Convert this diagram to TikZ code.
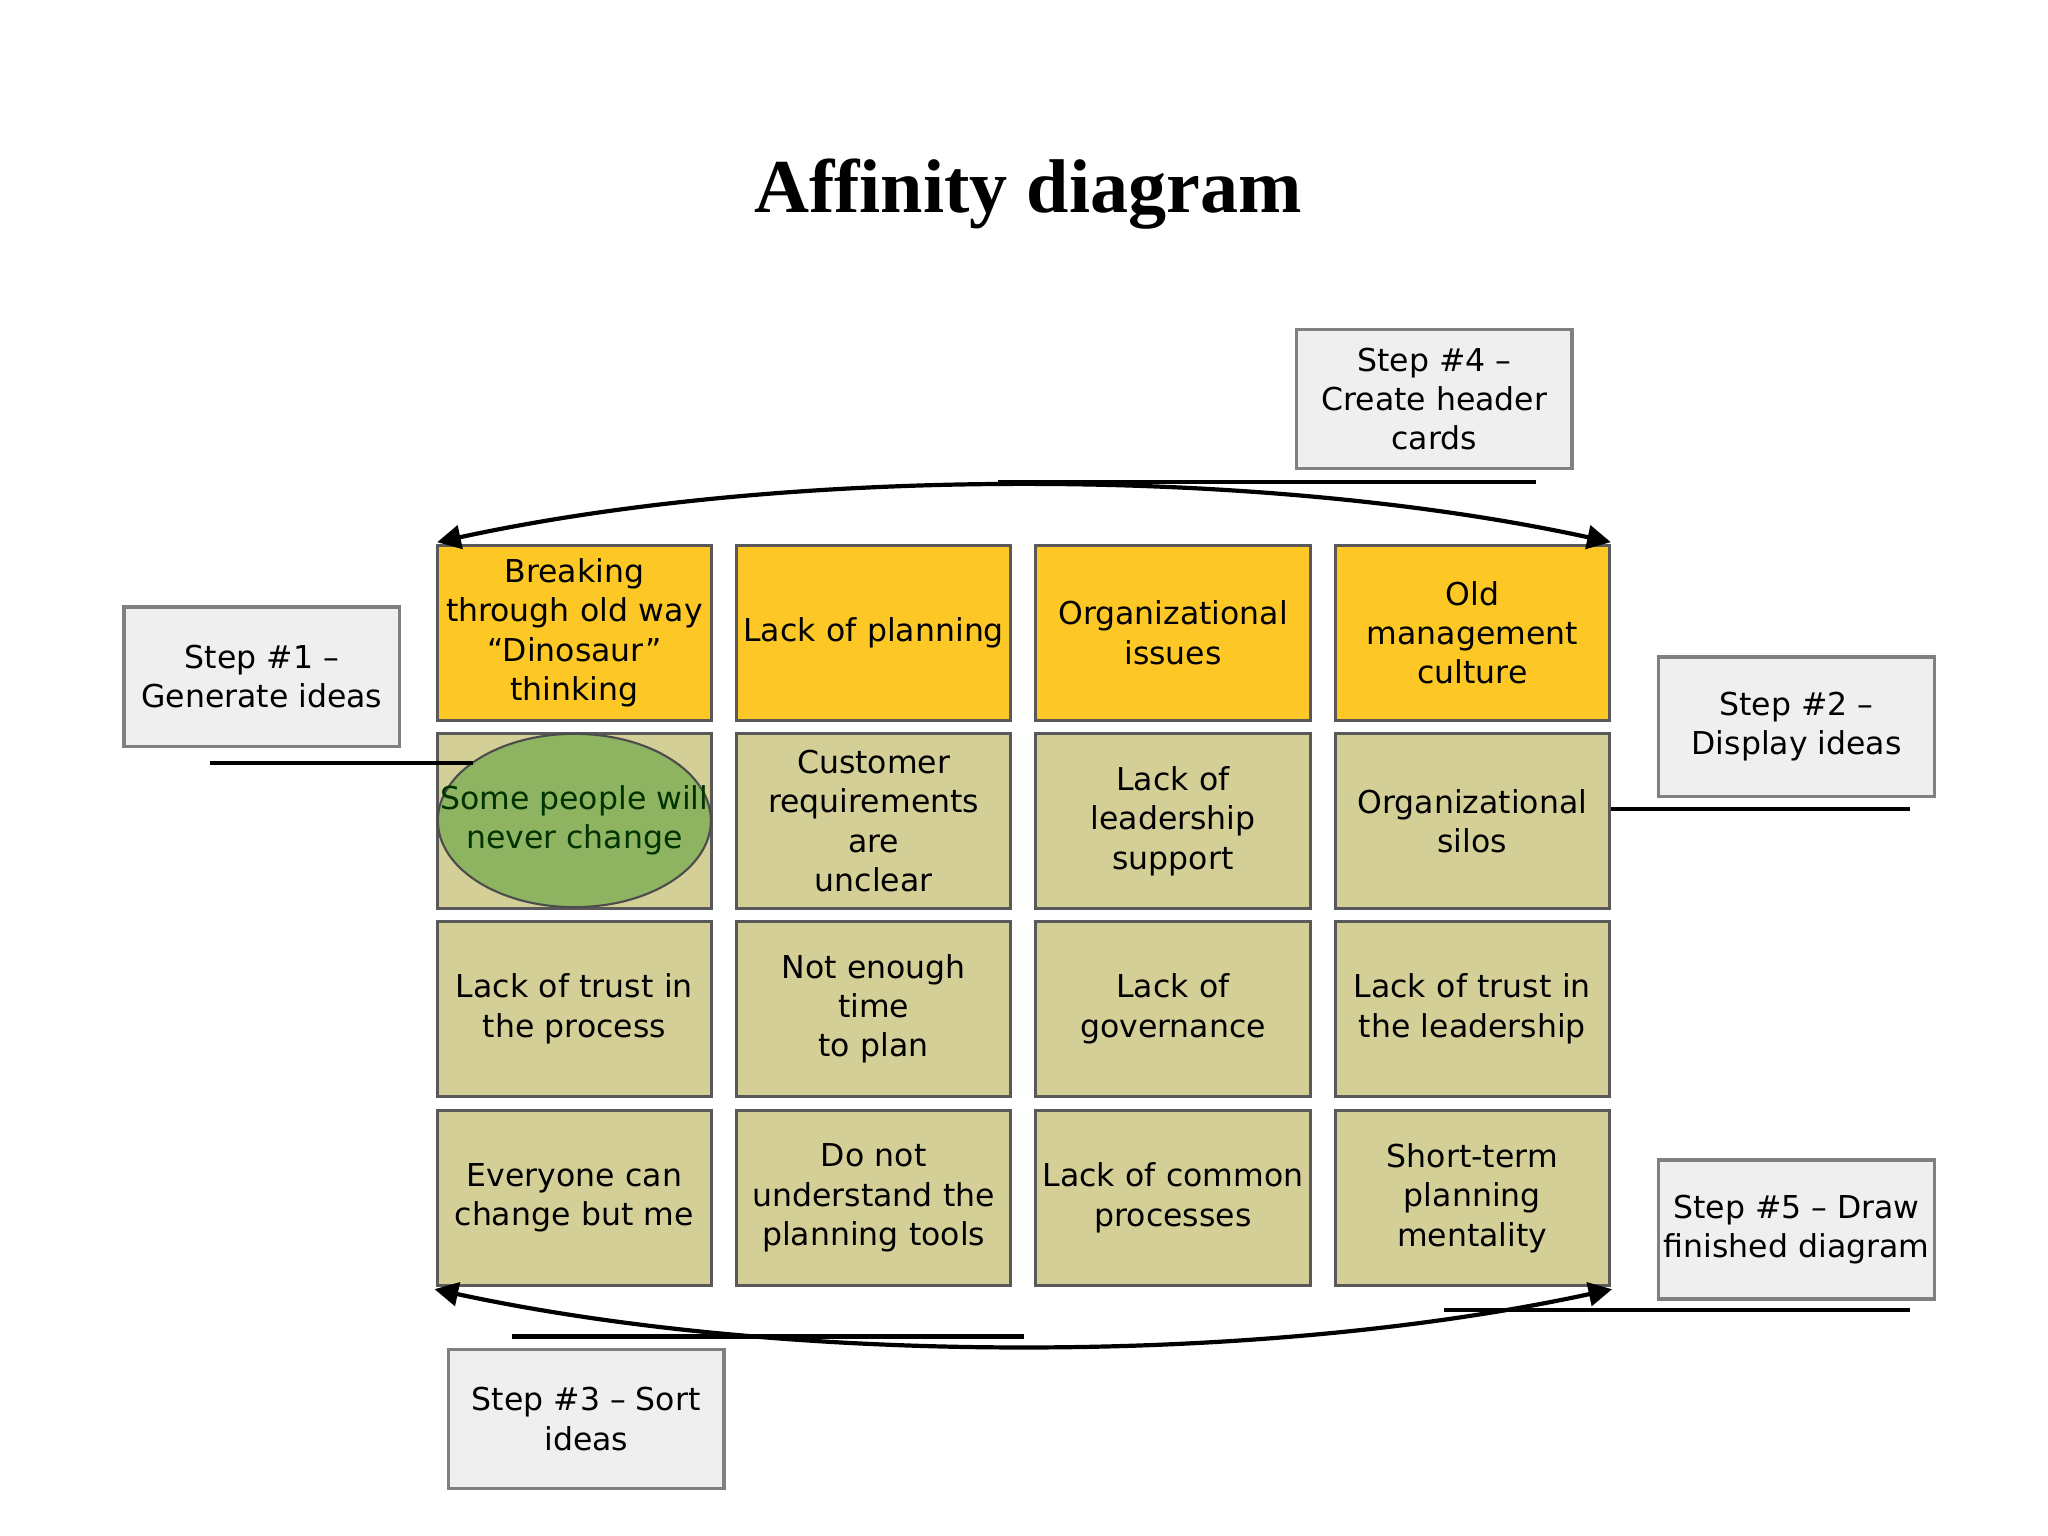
\documentclass[tikz,border=0pt]{standalone}
\usepackage{fontspec}
\setmainfont{DejaVu Sans}
\newfontfamily\titlefont{Liberation Serif}
\usetikzlibrary{arrows.meta,shapes.geometric}
\definecolor{hdr}{HTML}{FDC826}
\definecolor{card}{HTML}{D3CF97}
\definecolor{stepfill}{HTML}{EFEFEF}
\definecolor{ell}{HTML}{8EB461}
\tikzset{
  cardbox/.style={draw=gray!70!black, line width=1.2pt, minimum width=104.5pt, minimum height=66.5pt, align=center, font=\fontsize{12}{15}\selectfont, text width=100pt, inner sep=0pt},
  hcard/.style={cardbox, fill=hdr},
  bcard/.style={cardbox, fill=card},
  stepbox/.style={draw=gray, line width=1.3pt, fill=stepfill, minimum width=105pt, minimum height=53pt, align=center, font=\fontsize{12}{15}\selectfont, inner sep=0pt},
  conn/.style={line width=1.6pt},
  arr/.style={line width=1.6pt, {Triangle[length=9pt,width=9pt]}-{Triangle[length=9pt,width=9pt]}}
}
\begin{document}
\begin{tikzpicture}[x=0.5pt,y=-0.5pt]
\useasboundingbox (0,0) rectangle (1560,1170);
\node[font=\titlefont\bfseries\fontsize{29}{34}\selectfont] (title) at (783,148) {Affinity diagram};
\node[hcard] (h1) at (437.5,482) {Breaking\\through old way\\“Dinosaur”\\thinking};
\node[hcard] (h2) at (665.5,482) {Lack of planning};
\node[hcard] (h3) at (893.5,482) {Organizational\\issues};
\node[hcard] (h4) at (1121.5,482) {Old\\management\\culture};
\node[bcard] (a1) at (437.5,625.5) {};
\node[draw=gray!60!black, fill=ell, ellipse, minimum width=104pt, minimum height=66pt, inner sep=0pt, line width=0.8pt] (e1) at (437.5,625) {};
\node[align=center, font=\fontsize{12}{15}\selectfont, text=black!80!green] (e1t) at (437.5,625) {Some people will\\never change};
\node[bcard] (a2) at (665.5,625.5) {Customer\\requirements are\\unclear};
\node[bcard] (a3) at (893.5,625.5) {Lack of\\leadership\\support};
\node[bcard] (a4) at (1121.5,625.5) {Organizational\\silos};
\node[bcard] (b1) at (437.5,768.5) {Lack of trust in\\the process};
\node[bcard] (b2) at (665.5,768.5) {Not enough time\\to plan};
\node[bcard] (b3) at (893.5,768.5) {Lack of\\governance};
\node[bcard] (b4) at (1121.5,768.5) {Lack of trust in\\the leadership};
\node[bcard] (c1) at (437.5,912.5) {Everyone can\\change but me};
\node[bcard] (c2) at (665.5,912.5) {Do not\\understand the\\planning tools};
\node[bcard] (c3) at (893.5,912.5) {Lack of common\\processes};
\node[bcard] (c4) at (1121.5,912.5) {Short-term\\planning\\mentality};
\node[stepbox] (s1) at (199.5,515.5) {Step \#1 –\\Generate ideas};
\node[stepbox] (s4) at (1092.5,304) {Step \#4 –\\Create header\\cards};
\node[stepbox] (s2) at (1368.5,553.5) {Step \#2 –\\Display ideas};
\node[stepbox] (s5) at (1368.5,936.5) {Step \#5 – Draw\\finished diagram};
\node[stepbox] (s3) at (446.5,1081) {Step \#3 – Sort\\ideas};
\coordinate (tl) at (333,413);
\coordinate (tr) at (1227,413);
\coordinate (bl) at (331,982);
\coordinate (br) at (1228,982);
\draw[arr] (tl) .. controls (600,355) and (960,355) .. (tr);
\draw[arr] (bl) .. controls (600,1040) and (960,1040) .. (br);
\coordinate (l1) at (160,581);
\coordinate (l1e) at (360,581);
\draw[conn] (l1) -- (l1e);
\coordinate (l2) at (1455,616);
\draw[conn] (a4.east |- l2) -- (l2);
\coordinate (l4a) at (1170,367);
\coordinate (l4b) at (760,367);
\draw[conn] (l4a) -- (l4b);
\coordinate (l5a) at (1455,998);
\coordinate (l5b) at (1100,998);
\draw[conn] (l5a) -- (l5b);
\coordinate (l3a) at (390,1018);
\coordinate (l3b) at (780,1018);
\draw[conn] (l3a) -- (l3b);
\end{tikzpicture}
\end{document}
